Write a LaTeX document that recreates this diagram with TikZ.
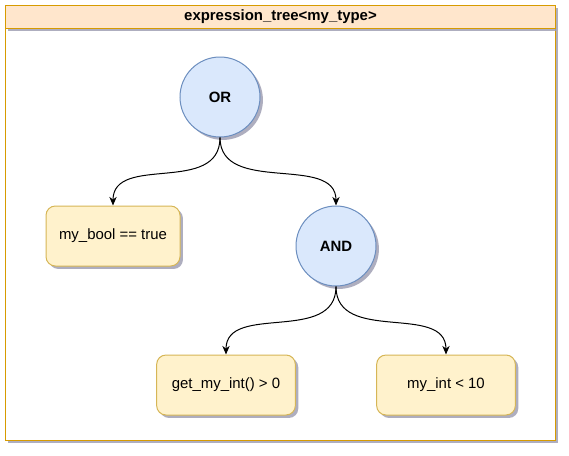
\documentclass[tikz,border=0pt]{standalone}
\usepackage{fontspec}
\setmainfont{Liberation Sans}
\usetikzlibrary{shadows,arrows.meta}
\definecolor{circfill}{HTML}{DAE8FC}
\definecolor{circdraw}{HTML}{6C8EBF}
\definecolor{boxfill}{HTML}{FFF2CC}
\definecolor{boxdraw}{HTML}{D6B656}
\definecolor{headfill}{HTML}{FFE6CC}
\definecolor{headdraw}{HTML}{D79B00}
\definecolor{shadowgray}{HTML}{9A9AB0}
\tikzset{
  shad/.style={drop shadow={shadow xshift=2.2pt,shadow yshift=-2.2pt,fill=shadowgray,opacity=0.8}},
  opnode/.style={circle,draw=circdraw,fill=circfill,line width=0.75pt,minimum size=60pt,inner sep=0pt,font=\fontsize{11.2}{13}\selectfont\bfseries,shad},
  leafnode/.style={rounded corners=7pt,draw=boxdraw,fill=boxfill,line width=0.75pt,minimum width=104pt,minimum height=45pt,inner sep=0pt,font=\fontsize{11.2}{13}\selectfont,shad},
  edge/.style={draw=black,line width=0.75pt,-{Stealth[length=6.5pt,width=5.5pt]}},
}
\begin{document}
\begin{tikzpicture}[x=0.75pt,y=-0.75pt]
\useasboundingbox (0,0) rectangle (569,455);
% container
\draw[draw=headdraw,fill=white,line width=0.75pt,shad] (5,28) rectangle (555,440);
\node[draw=headdraw,fill=headfill,line width=0.75pt,shad,minimum width=412.5pt,minimum height=17.25pt,inner sep=0pt,anchor=north west,font=\fontsize{11.2}{13}\selectfont\bfseries] (title) at (5,5) {expression\_tree<my\_type>};
% nodes
\node[opnode] (or) at (220,97) {OR};
\node[opnode] (and) at (336,246) {AND};
\node[leafnode,minimum width=100.5pt] (b) at (113,236) {my\_bool == true};
\node[leafnode] (g) at (226,385) {get\_my\_int() > 0};
\node[leafnode] (m) at (446,385) {my\_int < 10};
% edges
\draw[edge] (or.south) .. controls +(0,58) and +(0,-52) .. (b.north);
\draw[edge] (or.south) .. controls +(0,58) and +(0,-52) .. (and.north);
\draw[edge] (and.south) .. controls +(0,58) and +(0,-52) .. (g.north);
\draw[edge] (and.south) .. controls +(0,58) and +(0,-52) .. (m.north);
\end{tikzpicture}
\end{document}
